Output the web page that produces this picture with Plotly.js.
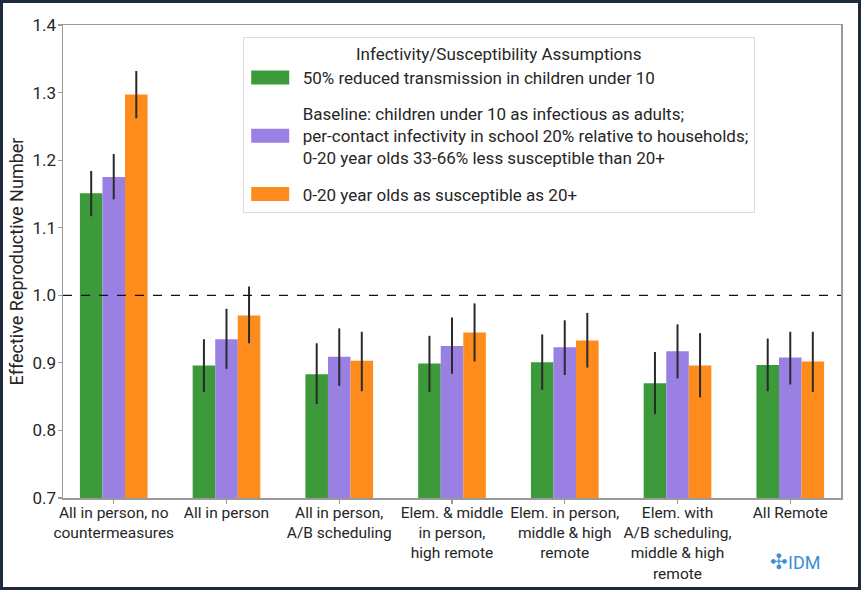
<!DOCTYPE html>
<html><head><meta charset="utf-8">
<script src="https://cdn.plot.ly/plotly-3.0.1.min.js"></script>
<style>
html,body{margin:0;padding:0;background:#fff;}
#frame{width:861px;height:590px;box-sizing:border-box;border:3px solid #1d2b3d;background:#fff;}
#chart{width:855px;height:584px;}
</style></head>
<body><div id="frame"><div id="chart"></div></div>
<script>
const categories = [
  "All in person, no<br>countermeasures",
  "All in person",
  "All in person,<br>A/B scheduling",
  "Elem. & middle<br>in person,<br>high remote",
  "Elem. in person,<br>middle & high<br>remote",
  "Elem. with<br>A/B scheduling,<br>middle & high<br>remote",
  "All Remote"
];
const seriesNames = [
  "50% reduced transmission in children under 10",
  "Baseline: children under 10 as infectious as adults;<br>per-contact infectivity in school 20% relative to households;<br>0-20 year olds 33-66% less susceptible than 20+",
  "0-20 year olds as susceptible as 20+"
];
const seriesColors = ["#3c9a3a", "#9b80e3", "#fd8c1c"];

const reducedValues = [1.151, 0.896, 0.883, 0.899, 0.901, 0.870, 0.897];
const reducedLow    = [1.117, 0.857, 0.839, 0.857, 0.860, 0.824, 0.858];
const reducedHigh   = [1.184, 0.935, 0.929, 0.940, 0.942, 0.916, 0.936];

const baselineValues = [1.175, 0.935, 0.909, 0.925, 0.923, 0.917, 0.908];
const baselineLow    = [1.142, 0.891, 0.866, 0.884, 0.882, 0.877, 0.868];
const baselineHigh   = [1.209, 0.980, 0.951, 0.967, 0.963, 0.957, 0.946];

const susceptibleValues = [1.297, 0.970, 0.903, 0.945, 0.933, 0.896, 0.902];
const susceptibleLow    = [1.262, 0.929, 0.858, 0.902, 0.893, 0.849, 0.857];
const susceptibleHigh   = [1.332, 1.013, 0.946, 0.988, 0.974, 0.944, 0.946];

const yTickValues = [0.7, 0.8, 0.9, 1.0, 1.1, 1.2, 1.3, 1.4];
const yTickLabels = ["0.7", "0.8", "0.9", "1.0", "1.1", "1.2", "1.3", "1.4"];
const referenceLevel = 1.0;

const FONT = '"Roboto", sans-serif';

function makeTrace(i, vals, lo, hi) {
  return {
    type: 'bar',
    name: seriesNames[i],
    legendgroup: 'g' + i,
    x: categories,
    y: vals,
    marker: {color: seriesColors[i], line: {width: 0}},
    error_y: {
      type: 'data', symmetric: false,
      array: hi.map((h, k) => h - vals[k]),
      arrayminus: lo.map((l, k) => vals[k] - l),
      color: '#2a2a2a', thickness: 2, width: 0
    },
    hoverinfo: 'skip'
  };
}

const data = [
  makeTrace(0, reducedValues, reducedLow, reducedHigh),
  makeTrace(1, baselineValues, baselineLow, baselineHigh),
  makeTrace(2, susceptibleValues, susceptibleLow, susceptibleHigh)
];

const layout = {
  width: 855, height: 584,
  margin: {l: 60, r: 17, t: 22, b: 89},
  paper_bgcolor: '#fff', plot_bgcolor: '#fff',
  font: {family: FONT, color: '#262626', size: 15},
  barmode: 'group', bargap: 0.4, bargroupgap: 0,
  xaxis: {
    type: 'category', range: [-0.45, 6.45],
    showline: true, linecolor: '#9a9a9a', linewidth: 1.5, mirror: true,
    ticks: 'outside', ticklen: 4, tickcolor: '#9a9a9a', tickwidth: 1.2,
    ticklabelstandoff: -4,
    tickfont: {size: 15.5, family: FONT, color: '#262626'},
    showgrid: false, zeroline: false, fixedrange: true
  },
  yaxis: {
    range: [0.7, 1.4],
    tickvals: yTickValues, ticktext: yTickLabels,
    showline: true, linecolor: '#9a9a9a', linewidth: 1.5, mirror: true,
    ticks: 'outside', ticklen: 4, tickcolor: '#9a9a9a', tickwidth: 1.2,
    ticklabelstandoff: -2,
    tickfont: {size: 17, family: FONT, color: '#262626'},
    showgrid: false, zeroline: false,
    title: {text: 'Effective Reproductive Number', font: {size: 18, family: FONT, color: '#262626'}, standoff: 4}
  },
  legend: {
    x: 0.231, y: 0.975, xanchor: 'left', yanchor: 'top',
    bgcolor: '#fff', bordercolor: '#dcdcdc', borderwidth: 1,
    font: {size: 17, family: FONT, color: '#262626'},
    itemwidth: 49, tracegroupgap: 11,
    title: {text: 'Infectivity/Susceptibility Assumptions', side: 'top center', font: {size: 17, family: FONT, color: '#262626'}}
  },
  shapes: [{
    type: 'line', xref: 'paper', x0: 0, x1: 1, yref: 'y', y0: referenceLevel, y1: referenceLevel,
    line: {color: '#111', width: 1.3, dash: 'dash'}
  }],
  annotations: [{
    xref: 'paper', yref: 'paper', x: 0.975, y: -0.135, xanchor: 'right', yanchor: 'middle',
    text: '<span style="font-size:21px">✣</span>IDM', showarrow: false,
    font: {size: 18, family: FONT, color: '#3a8fd6'}
  }]
};

Plotly.newPlot('chart', data, layout, {displayModeBar: false, staticPlot: true}).then(function (gd) {
  // widen the legend swatches to the wide rectangular patches of the original
  gd.querySelectorAll('.legend .legendpoints path').forEach(function (p) {
    p.setAttribute('d', 'M16,7H-22V-7H16Z');
  });
});
</script>
</body></html>
